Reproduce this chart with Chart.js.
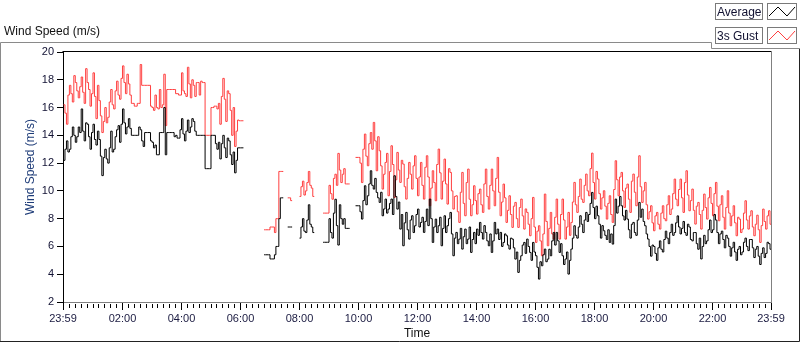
<!DOCTYPE html>
<html><head><meta charset="utf-8">
<script src="https://cdn.jsdelivr.net/npm/chart.js@4/dist/chart.umd.min.js"></script>
<style>html,body{margin:0;padding:0;background:#fff;}#wrap{position:relative;width:800px;height:342px;}</style>
</head><body><div id="wrap"><canvas id="c" width="800" height="342"></canvas></div>
<script>
// ---- data (minutes after 00:00, one sample every stepMinutes; null = no data) ----
const startMinute = 0;
const stepMinutes = 3;

const average = [
// 00:00 - 06:06
12.2,13.0,13.6,12.8,13.0,13.9,14.6,14.0,13.5,13.9,14.6,14.2,15.9,14.3,13.6,14.9,14.8,13.9,13.0,14.2,
14.8,13.7,13.3,14.3,13.7,12.5,11.1,12.4,13.0,12.3,12.0,13.1,14.3,12.8,13.0,13.9,14.4,14.7,13.5,14.8,
15.9,14.9,14.1,14.6,15.2,14.5,14.0,14.0,14.0,14.0,14.0,14.6,14.4,13.6,13.2,14.2,14.2,14.2,14.2,13.6,
13.5,13.1,13.3,12.6,12.6,14.2,14.2,14.2,16.0,12.6,14.2,14.2,14.2,14.2,14.2,13.9,14.0,13.8,13.8,14.4,
15.2,14.1,13.6,14.3,15.1,14.2,14.6,15.2,15.0,14.3,14.0,14.0,14.0,14.0,14.0,14.0,11.6,11.6,11.6,11.6,
14.0,14.0,14.0,13.4,13.0,13.5,12.3,13.4,14.0,13.1,12.4,13.8,13.6,12.6,11.9,12.8,11.3,12.2,13.1,13.1,
13.1,13.1,13.1,
null,null,null,null,null,null,null,null,null,null,null,null,null,
// 06:48 - 07:27
5.4,5.4,5.4,5.4,5.1,5.1,5.1,5.4,6.0,6.0,8.0,9.5,9.5,9.5,
null,null,
7.4,7.4,7.4,7.4,
null,null,null,null,
6.6,7.4,8.0,7.1,7.0,7.9,9.0,7.6,7.4,7.0,7.0,
null,null,null,null,null,
6.3,6.3,6.3,6.3,8.0,7.0,6.6,8.4,9.4,7.5,6.1,9.0,8.0,7.6,8.0,7.3,7.3,7.3,7.3,
null,null,null,
// 09:54 - 24:00
8.93,8.93,8.93,8.5,7.97,9.3,10.37,9.0,9.65,10.5,11.45,10.4,10.13,10.9,9.89,9.5,9.17,9.9,8.21,8.7,
9.41,8.4,8.69,9.1,9.41,8.3,11.09,9.6,8.69,9.2,7.25,8.3,6.05,7.7,8.45,7.2,6.53,7.9,8.21,7.0,
7.49,8.3,8.69,7.4,7.73,8.1,7.01,7.8,8.69,7.5,9.41,8.0,6.29,7.4,7.97,7.0,7.49,8.1,6.05,7.3,
8.21,7.0,7.49,8.0,8.45,6.9,5.33,6.6,7.01,6.2,6.53,7.3,5.81,6.7,7.25,6.2,6.53,7.4,5.57,6.5,
7.01,6.2,7.25,6.8,7.73,7.0,6.53,7.5,7.01,6.4,6.05,6.9,5.57,6.4,7.73,6.9,7.25,6.5,7.01,6.0,
6.29,6.9,6.77,6.1,5.81,6.6,6.53,5.9,5.09,5.6,4.13,5.0,5.33,6.1,6.29,5.5,6.53,6.0,5.57,5.0,
6.29,5.6,5.33,4.5,3.65,4.9,4.61,5.4,5.81,4.9,5.09,5.8,5.33,6.4,7.01,6.1,7.01,6.4,5.57,6.2,
5.33,4.7,5.09,5.6,4.01,5.0,5.81,6.6,7.49,6.8,6.6,7.4,8.21,7.6,7.0,7.9,8.45,7.8,8.3,9.1,
9.89,8.8,8.0,8.9,8.21,7.6,6.6,7.5,7.13,6.8,6.5,7.2,6.29,6.9,6.17,7.5,9.41,8.4,8.9,9.6,
8.93,8.2,7.9,8.6,7.97,7.2,6.6,7.6,7.73,7.0,6.8,7.9,9.17,8.1,8.69,7.8,7.49,6.9,6.53,6.0,
5.3,6.1,6.0,5.5,5.0,5.9,6.4,5.8,5.6,6.5,7.1,6.6,6.2,7.0,7.6,6.8,7.0,7.7,8.2,7.4,
6.9,7.3,7.8,7.0,6.8,7.6,7.4,6.5,6.4,7.0,7.0,6.2,5.8,6.6,5.1,6.0,6.8,6.2,6.4,7.2,
7.9,7.0,7.2,8.3,7.9,7.0,6.2,6.9,7.1,6.5,5.9,6.8,6.6,6.0,5.3,5.9,6.3,5.6,5.0,5.8,
6.0,5.4,5.6,6.3,6.6,6.0,5.7,6.5,6.5,5.9,5.2,5.8,6.0,5.3,4.7,5.5,5.9,5.2,5.5,6.3,
6.2,5.8,6.5
];

const gust = [
// 00:00 - 06:06
16.2,15.6,14.8,16.9,17.6,17.0,16.4,18.3,17.8,17.2,16.7,17.5,18.2,17.1,16.3,18.8,17.8,17.3,16.1,17.0,
18.5,16.8,15.2,17.6,16.5,15.4,14.2,15.0,16.0,14.9,15.3,16.4,17.3,16.2,15.9,17.2,17.9,16.9,16.6,18.1,
19.0,17.8,17.0,18.4,17.7,16.9,16.3,16.3,16.1,16.1,16.3,16.3,19.1,17.6,17.6,17.6,17.6,17.6,17.6,16.1,
16.0,15.8,16.9,16.0,15.9,17.3,16.0,16.2,18.4,14.7,17.3,17.3,17.3,17.3,17.3,17.3,17.0,17.0,16.9,16.9,
18.5,17.2,17.0,16.8,18.9,17.7,16.7,18.0,17.6,16.8,17.8,17.8,16.9,17.9,17.8,17.8,14.0,14.0,14.0,14.0,
16.0,16.0,16.1,16.1,15.9,16.3,14.8,16.8,18.1,16.6,15.0,17.2,17.0,15.8,14.0,16.0,13.2,14.3,15.1,15.05,
15.05,15.05,15.05,
null,null,null,null,null,null,null,null,null,null,null,null,null,
// 06:48 - 07:27
7.2,7.2,7.2,7.2,7.4,7.4,7.4,7.0,8.0,8.0,11.4,11.4,11.4,11.4,
null,null,
9.5,9.5,9.3,9.3,
null,null,null,null,
9.6,10.3,10.7,9.7,10.0,10.6,11.4,10.4,10.2,9.6,9.6,
null,null,null,null,null,
8.4,8.4,8.4,8.4,10.4,9.8,9.4,10.9,11.2,10.4,12.7,11.5,10.6,11.2,11.6,10.5,10.5,10.5,10.5,
null,null,null,
// 09:54 - 24:00
12.41,12.41,12.41,12.0,10.6,13.0,14.09,12.5,11.81,13.4,14.2,13.0,14.93,13.6,11.45,13.9,12.89,11.8,10.13,11.2,
12.05,12.7,9.65,11.4,13.25,11.9,9.53,10.8,12.77,11.5,10.61,12.2,11.93,10.3,9.41,10.9,12.05,11.2,10.13,11.8,
12.53,10.9,9.65,11.0,12.05,10.4,9.41,11.7,12.53,11.0,8.93,10.2,11.45,10.6,9.29,11.9,13.01,11.3,9.41,10.7,
12.29,10.5,9.05,11.6,11.33,10.0,8.69,9.6,9.65,8.5,7.73,9.9,11.33,9.1,8.21,10.6,11.57,9.4,8.21,9.0,
10.37,9.3,8.33,9.8,10.13,9.0,8.45,10.5,11.57,9.6,8.69,10.4,11.57,10.0,8.93,10.9,12.41,9.9,8.21,9.2,
10.49,9.5,7.73,8.6,9.65,8.3,7.37,8.9,9.17,8.0,7.37,8.8,9.41,8.2,7.25,8.7,8.45,7.6,6.77,8.0,
9.53,7.4,6.29,7.1,7.49,6.4,5.33,6.9,9.77,7.8,6.05,7.3,8.45,6.9,6.53,8.1,9.41,7.6,6.53,8.3,
9.41,7.9,6.53,7.4,8.45,6.8,7.73,9.2,10.61,9.0,8.45,9.6,10.85,9.4,9.17,10.4,11.21,10.0,9.65,11.6,
12.72,10.6,9.41,11.4,10.85,9.8,8.69,9.5,10.01,8.9,7.97,9.1,9.65,8.3,7.73,10.1,12.17,10.8,9.65,11.0,
11.33,10.0,8.81,10.2,10.49,9.4,8.45,10.7,11.21,9.9,8.93,11.0,12.53,10.3,9.17,10.0,10.61,9.0,7.97,8.5,
8.93,7.7,7.13,8.2,8.45,7.6,7.25,8.4,8.93,8.0,7.85,9.0,9.65,8.3,8.69,9.8,10.85,9.4,8.93,10.1,
10.85,9.5,8.45,10.6,11.45,9.7,8.57,9.3,10.13,8.6,7.61,8.9,9.17,8.3,7.25,8.6,9.77,8.8,7.97,9.5,
10.25,9.1,8.21,9.8,10.61,8.9,7.85,9.0,9.65,8.1,7.25,8.8,10.01,8.4,7.49,8.2,8.93,7.7,6.77,8.1,
7.97,7.0,7.25,8.4,9.29,7.9,7.25,8.2,8.57,7.4,6.77,7.6,8.25,7.2,6.29,7.5,8.69,7.8,7.25,8.2,
8.57,7.6,7.9
];

const yTickValues = [2,4,6,8,10,12,14,16,18,20];
const xTickMinutes = [-1,120,240,360,480,600,720,840,960,1080,1200,1320,1439];
const xTickLabels = ['23:59','02:00','04:00','06:00','08:00','10:00','12:00','14:00','16:00','18:00','20:00','22:00','23:59'];
const minorTickMinutes = 12;
const seriesNames = ['Average','3s Gust'];
const seriesColors = ['#000000','#ff3f3f'];

const FONT = 'Liberation Sans';
const toPoints = arr => arr.map((v,i)=>({x:startMinute+i*stepMinutes,y:v}));

const decor = {
  id:'decor',
  beforeDraw(chart){
    const ctx = chart.ctx;
    ctx.save();
    ctx.fillStyle='#fff';ctx.fillRect(0,0,800,342);
    ctx.restore();
  },
  afterDraw(chart){
    const ctx = chart.ctx, a = chart.chartArea, xs = chart.scales.x;
    ctx.save();
    ctx.lineWidth=1;
    ctx.strokeStyle='#8a8a8a';
    ctx.beginPath();ctx.moveTo(0.5,341);ctx.lineTo(0.5,42.5);ctx.lineTo(711.5,42.5);ctx.lineTo(711.5,48.5);ctx.lineTo(799,48.5);ctx.stroke();
    ctx.strokeStyle='#222';
    ctx.beginPath();ctx.moveTo(799.5,48.5);ctx.lineTo(799.5,341.5);ctx.lineTo(0,341.5);ctx.stroke();
    ctx.strokeStyle='#000';
    ctx.beginPath();ctx.moveTo(a.left-0.5,a.top-0.5);ctx.lineTo(a.right+0.5,a.top-0.5);ctx.stroke();
    ctx.strokeStyle='#808080';
    ctx.beginPath();ctx.moveTo(a.right+0.5,a.top-0.5);ctx.lineTo(a.right+0.5,a.bottom);ctx.stroke();
    ctx.strokeStyle='#000';
    ctx.beginPath();
    for(let m=xs.min;m<=xs.max;m+=minorTickMinutes){
      const px=Math.round(xs.getPixelForValue(m))+0.5;
      ctx.moveTo(px,a.bottom+2);ctx.lineTo(px,a.bottom+6);
    }
    ctx.stroke();
    ctx.fillStyle='#111';
    ctx.font='12px "'+FONT+'"';
    ctx.textBaseline='alphabetic';ctx.textAlign='left';
    ctx.fillText('Wind Speed (m/s)',4,35);
    ctx.save();
    ctx.translate(31,(a.top+a.bottom)/2-10);
    ctx.rotate(-Math.PI/2);
    ctx.fillStyle='#1e3c78';
    ctx.textAlign='center';ctx.textBaseline='middle';
    ctx.fillText('Wind Speed (m/s)',0,0);
    ctx.restore();
    const rows=[3,27];
    seriesNames.forEach((name,i)=>{
      const y=rows[i];
      ctx.fillStyle='#fff';
      ctx.fillRect(715,y,48,17);ctx.fillRect(767,y,30,17);
      ctx.strokeStyle='#7a7a7a';
      ctx.strokeRect(715.5,y+0.5,47,16);
      ctx.strokeRect(767.5,y+0.5,29,16);
      ctx.fillStyle='#101030';
      ctx.textAlign='left';ctx.textBaseline='alphabetic';
      ctx.fillText(name,717,y+13);
      ctx.strokeStyle=seriesColors[i];
      ctx.beginPath();
      ctx.moveTo(769,y+13);ctx.lineTo(778,y+4);ctx.lineTo(787,y+13);ctx.lineTo(795,y+4);
      ctx.stroke();
    });
    ctx.restore();
  }
};

new Chart(document.getElementById('c'),{
  type:'line',
  data:{datasets:[
    {label:seriesNames[0],data:toPoints(average),borderColor:seriesColors[0],borderWidth:1,pointRadius:0,stepped:true,spanGaps:false},
    {label:seriesNames[1],data:toPoints(gust),borderColor:seriesColors[1],borderWidth:1,pointRadius:0,stepped:true,spanGaps:false}
  ]},
  options:{
    responsive:false,animation:false,devicePixelRatio:1,
    layout:{padding:{top:52,right:29,left:0,bottom:0}},
    plugins:{legend:{display:false},tooltip:{enabled:false}},
    scales:{
      x:{type:'linear',min:xTickMinutes[0],max:xTickMinutes[xTickMinutes.length-1],
        afterBuildTicks:s=>{s.ticks=xTickMinutes.map(v=>({value:v}));},
        afterFit:s=>{s.height=40;},
        ticks:{autoSkip:false,maxRotation:0,padding:2,color:'#1a1a40',font:{family:FONT,size:11},
          callback:v=>{const k=xTickMinutes.indexOf(v);return k>=0?xTickLabels[k]:'';}},
        grid:{drawOnChartArea:false,drawTicks:true,tickLength:8,tickColor:'#000'},
        border:{color:'#808080'},
        title:{display:true,text:'Time',color:'#111',font:{family:FONT,size:12},padding:{top:0,bottom:1}}
      },
      y:{min:2,max:20,
        afterBuildTicks:s=>{s.ticks=yTickValues.map(v=>({value:v}));},
        afterFit:s=>{s.width=63;},
        ticks:{padding:3,color:'#111133',font:{family:FONT,size:11}},
        grid:{drawOnChartArea:false,drawTicks:true,tickLength:6,tickColor:'#000'},
        border:{color:'#000'}
      }
    }
  },
  plugins:[decor]
});
</script></body></html>
